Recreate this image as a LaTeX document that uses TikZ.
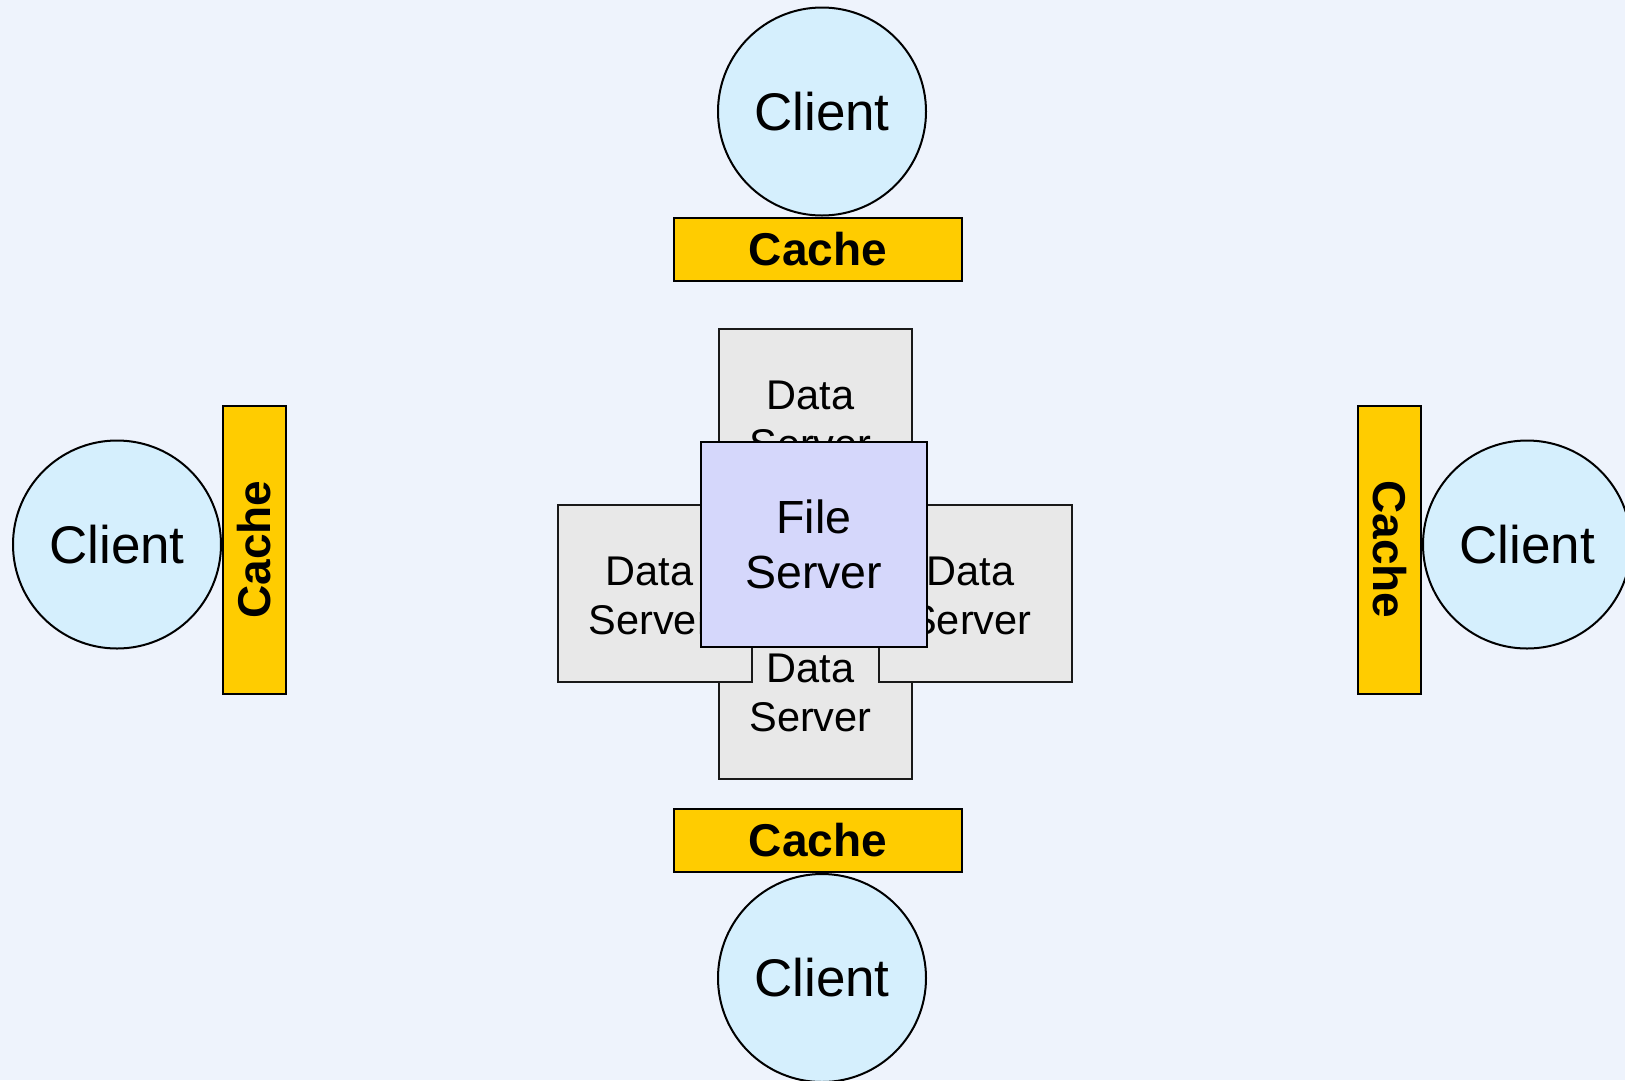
\documentclass[tikz,border=0pt]{standalone}
\usepackage{fontspec}
\setmainfont{Liberation Sans}
\definecolor{bgcol}{HTML}{EEF3FC}
\definecolor{clientcol}{HTML}{D5EFFD}
\definecolor{cachecol}{HTML}{FFCC00}
\definecolor{datacol}{HTML}{E8E8E8}
\definecolor{filecol}{HTML}{D5D7FB}
\tikzset{
  client/.style={circle, draw=black, line width=2pt, fill=clientcol,
    minimum size=208pt, inner sep=0pt, font=\fontsize{53}{60}\selectfont},
  cachebox/.style={rectangle, draw=black, line width=2pt, fill=cachecol,
    minimum width=288pt, minimum height=63pt, inner sep=0pt,
    font=\fontsize{46}{52}\selectfont\bfseries},
  databox/.style={rectangle, draw=black!90, line width=2pt, fill=datacol,
    minimum width=193.5pt, minimum height=177pt, inner sep=0pt},
  datatext/.style={align=center, inner sep=0pt, xshift=-5pt, yshift=-2pt,
    font=\fontsize{41.5}{49}\selectfont},
  filebox/.style={rectangle, draw=black, line width=2pt, fill=filecol,
    minimum width=225.5pt, minimum height=205pt, inner sep=0pt, align=center,
    font=\fontsize{46.5}{55}\selectfont}
}
\begin{document}
\begin{tikzpicture}[x=1pt,y=-1pt]
  \useasboundingbox (0,0) rectangle (1625,1080);
  \fill[bgcol] (0,0) rectangle (1625,1080);
  \clip (0,0) rectangle (1625,1080);

  % data servers around the file server
  \node[databox, label={[datatext]center:{Data\\Server}}] (dtop) at (815.5,417.5) {};
  \node[databox, label={[datatext]center:{Data\\Server}}] (dbot) at (815.5,690.5) {};
  \node[databox, label={[datatext]center:{Data\\Server}}] (dleft) at (654.75,593.5) {};
  \node[databox, label={[datatext]center:{Data\\Server}}] (dright) at (975.35,593.5) {};
  \node[filebox] (fs) at (813.75,544.5) {File\\Server};

  % clients with their caches
  \node[client] (ctop) at (822,111.5) {Client};
  \node[cachebox] (ktop) at (818,249) {Cache};

  \node[cachebox] (kbot) at (818,840.5) {Cache};
  \node[client] (cbot) at (822,978) {Client};

  \node[client] (cleft) at (117,544.5) {Client};
  \node[cachebox, rotate=90] (kleft) at (254.5,549.5) {Cache};

  \node[cachebox, rotate=-90] (kright) at (1389.5,549.5) {Cache};
  \node[client] (cright) at (1527,544.5) {Client};
\end{tikzpicture}
\end{document}
